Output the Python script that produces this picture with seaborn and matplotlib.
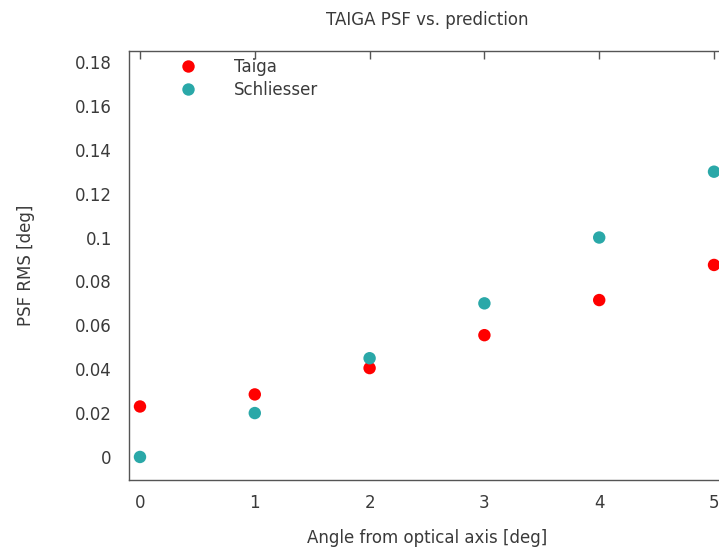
import matplotlib
matplotlib.use("Agg")
import matplotlib.pyplot as plt
import seaborn as sns
import pandas as pd

# data
angles = [0, 1, 2, 3, 4, 5]
taiga = [0.023, 0.0285, 0.0405, 0.0555, 0.0715, 0.0875]
schliesser = [0.0, 0.020, 0.045, 0.070, 0.100, 0.130]
series_names = ["Taiga", "Schliesser"]
y_ticks = [0, 0.02, 0.04, 0.06, 0.08, 0.1, 0.12, 0.14, 0.16, 0.18]
y_tick_labels = ["0", "0.02", "0.04", "0.06", "0.08", "0.1", "0.12", "0.14", "0.16", "0.18"]

df = pd.DataFrame({
    "angle": angles * 2,
    "rms": taiga + schliesser,
    "series": [series_names[0]] * len(angles) + [series_names[1]] * len(angles),
})

sns.set_style("white")
plt.rcParams["font.family"] = ["DejaVu Sans"]
text_col = "#3a3a3a"

fig = plt.figure(figsize=(7.19, 5.49), dpi=100)
ax = fig.add_axes([128.5 / 719, 1 - 480 / 549, (725.5 - 128.5) / 719, (480 - 51) / 549])

sns.scatterplot(data=df, x="angle", y="rms", hue="series",
                palette={"Taiga": "#ff0000", "Schliesser": "#2aa8a8"},
                s=80, linewidth=0, ax=ax, clip_on=False)

ax.set_xlim(-0.1, 5.1)
ax.set_ylim(-0.0105, 0.185)
ax.set_xticks(angles)
ax.set_yticks(y_ticks)
ax.set_yticklabels(y_tick_labels)

for side in ["left", "right", "top", "bottom"]:
    ax.spines[side].set_color("#555555")
    ax.spines[side].set_linewidth(1.0)
ax.tick_params(direction="in", length=6, width=1, color="#555555",
               top=True, right=False, labelsize=12, labelcolor=text_col)
ax.tick_params(axis="y", pad=12)
ax.tick_params(axis="x", pad=10)

ax.set_title("TAIGA PSF vs. prediction", fontsize=12, color=text_col, pad=19)
ax.set_xlabel("Angle from optical axis [deg]", fontsize=12, color=text_col, labelpad=12)
ax.set_ylabel("PSF RMS [deg]", fontsize=12, color=text_col, labelpad=29)

leg = ax.legend(loc="upper left", bbox_to_anchor=(0.046, 1.018), frameon=False,
                fontsize=12, handletextpad=1.8, labelspacing=0.3, markerscale=1.0)
for t in leg.get_texts():
    t.set_color(text_col)

fig.savefig("out.png", dpi=100)
plt.close()
